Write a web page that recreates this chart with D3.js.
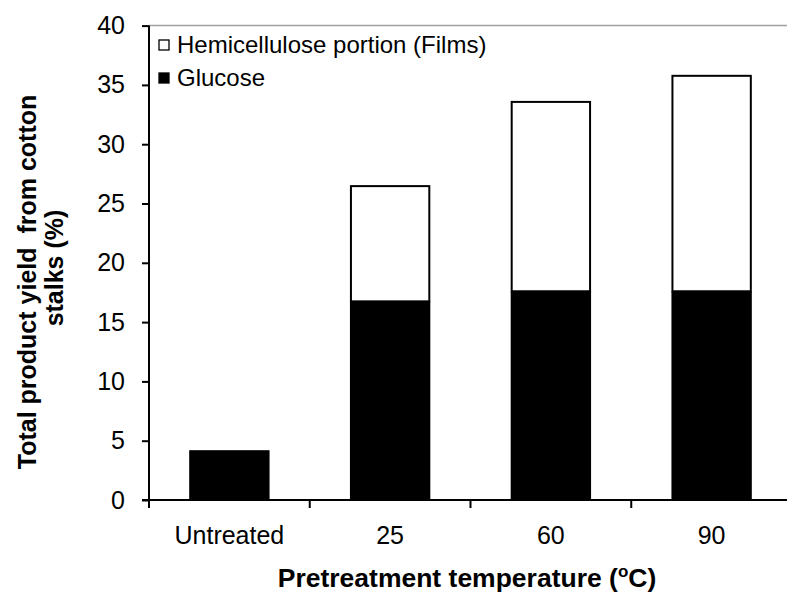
<!DOCTYPE html>
<html><head><meta charset="utf-8">
<script src="https://cdn.jsdelivr.net/npm/d3@7"></script>
<style>body{margin:0;background:#fff}svg{display:block}text{font-family:Arial,"Liberation Sans",sans-serif}</style>
</head><body><div id="chart"></div>
<script>
const categories = ["Untreated", "25", "60", "90"];
const glucose = [4.2, 16.75, 17.6, 17.6];
const hemicellulose = [0, 9.8, 16.05, 18.25];
const yTicks = [0, 5, 10, 15, 20, 25, 30, 35, 40];
const seriesNames = ["Hemicellulose portion (Films)", "Glucose"];

const W = 787, H = 592;
const m = {left: 149, top: 25.6};
const svg = d3.select("#chart").append("svg").attr("width", W).attr("height", H);

const x = d3.scaleBand().domain(categories).range([m.left, W + 5])
  .paddingInner(0.5).paddingOuter(0.25);
const y = d3.scaleLinear().domain([0, 40]).range([500, m.top]);

// top border line
svg.append("line").attr("x1", m.left).attr("x2", W).attr("y1", 25.5).attr("y2", 25.5)
  .attr("stroke", "#a0a0a0").attr("stroke-width", 1.5);

const data = categories.map((c, i) => ({c, g: glucose[i], h: hemicellulose[i]}));

// glucose bars
svg.selectAll("rect.g").data(data).enter().append("rect")
  .attr("x", d => x(d.c)).attr("width", x.bandwidth())
  .attr("y", d => y(d.g)).attr("height", d => y(0) - y(d.g))
  .attr("fill", "#000");

// hemicellulose bars
svg.selectAll("rect.h").data(data.filter(d => d.h > 0)).enter().append("rect")
  .attr("x", d => x(d.c) + 1).attr("width", x.bandwidth() - 2)
  .attr("y", d => y(d.g + d.h) + 1).attr("height", d => y(d.g) - y(d.g + d.h) - 1)
  .attr("fill", "#fff").attr("stroke", "#000").attr("stroke-width", 2);

// Y axis
const yAxis = svg.append("g").attr("transform", `translate(${m.left},0)`)
  .call(d3.axisLeft(y).tickValues(yTicks).tickSize(7).tickPadding(17));
yAxis.select(".domain").attr("stroke-width", 2).attr("d", `M0,${y(40)}V${y(0)}`);
yAxis.selectAll(".tick line").attr("stroke-width", 2);
yAxis.selectAll("text").attr("font-size", 25).attr("fill", "#000");

// X axis
const xAxis = svg.append("g").attr("transform", `translate(0,${y(0)})`)
  .call(d3.axisBottom(x).tickSize(0).tickPadding(26));
xAxis.select(".domain").remove();
xAxis.selectAll("text").attr("font-size", 25).attr("fill", "#000");
svg.append("line").attr("x1", m.left - 7).attr("x2", W).attr("y1", y(0)).attr("y2", y(0))
  .attr("stroke", "#000").attr("stroke-width", 2);
const bounds = categories.map(c => x(c) - x.bandwidth() / 2);
svg.selectAll("line.xt").data(bounds).enter().append("line")
  .attr("x1", d => d).attr("x2", d => d).attr("y1", y(0)).attr("y2", y(0) + 8)
  .attr("stroke", "#000").attr("stroke-width", 2);

// Axis titles
const xt = svg.append("text").attr("x", 467).attr("y", 587).attr("text-anchor", "middle")
  .attr("font-size", 26.5).attr("font-weight", "bold").attr("fill", "#000");
xt.append("tspan").text("Pretreatment temperature (");
xt.append("tspan").text("o").attr("font-size", 17).attr("dy", -10);
xt.append("tspan").text("C)").attr("dy", 10);

svg.append("text").attr("transform", "translate(36,282) rotate(-90)")
  .attr("text-anchor", "middle").attr("font-size", 25).attr("font-weight", "bold").attr("fill", "#000")
  .style("white-space", "pre").text("Total product yield  from cotton");
svg.append("text").attr("transform", "translate(63,268) rotate(-90)")
  .attr("text-anchor", "middle").attr("font-size", 25).attr("font-weight", "bold").attr("fill", "#000")
  .text("stalks (%)");

// Legend
const leg = svg.append("g");
seriesNames.forEach((n, i) => {
  const ly = 45 + i * 33;
  leg.append("rect").attr("x", 159).attr("y", ly - 5).attr("width", 10).attr("height", 10)
    .attr("fill", i === 0 ? "#fff" : "#000").attr("stroke", "#000").attr("stroke-width", 1.3);
  leg.append("text").attr("x", 177).attr("y", ly + 8).attr("font-size", 24).attr("fill", "#000").text(n);
});
</script></body></html>
